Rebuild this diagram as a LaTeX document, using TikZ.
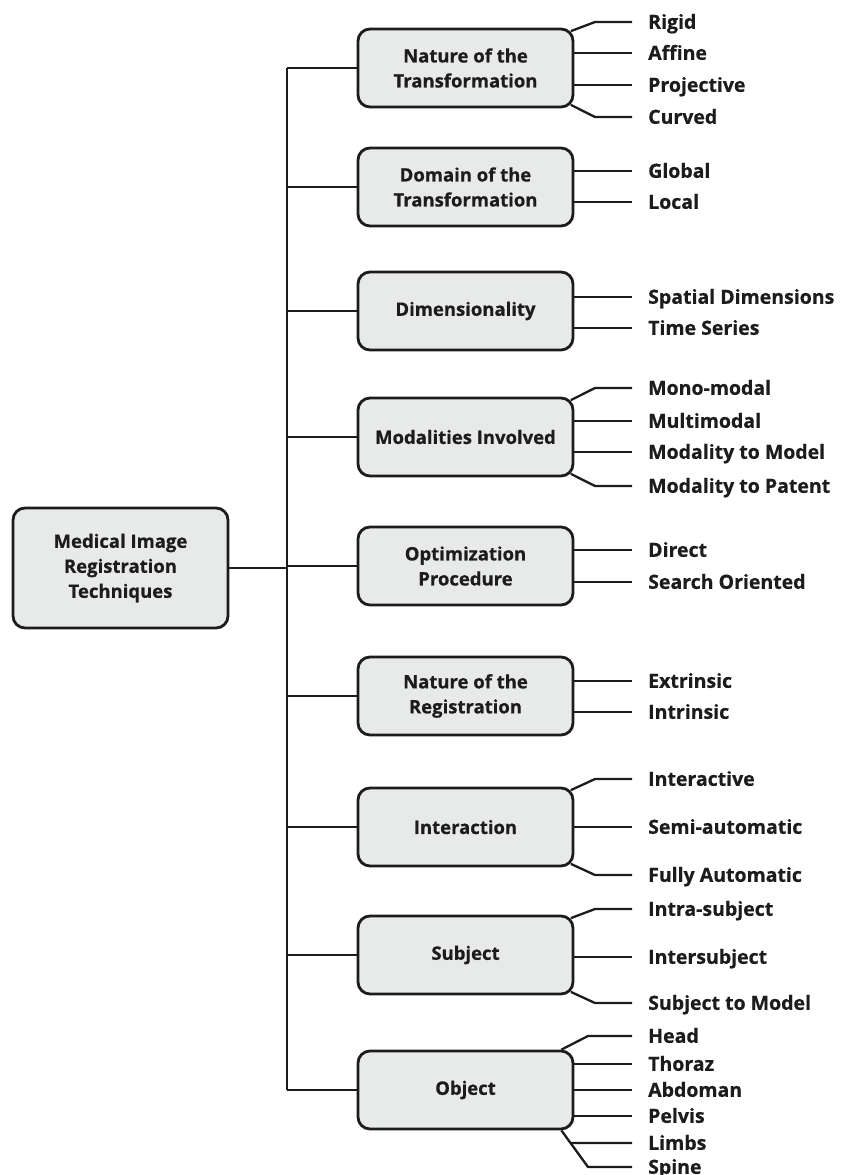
\documentclass[tikz,border=0pt]{standalone}
\usepackage{fontspec}
\setmainfont{Open Sans}[BoldFeatures={FakeBold=0.6}]

\definecolor{boxfill}{HTML}{E8E9E9}
\definecolor{ink}{HTML}{1E1B1C}

\begin{document}
\begin{tikzpicture}[x=1pt,y=-1pt,
    every node/.style={font=\fontsize{18.5}{25}\selectfont\bfseries, text=ink},
    catbox/.style={draw=ink, line width=2.8pt, fill=boxfill, rounded corners=12pt,
        minimum width=215pt, minimum height=78pt, align=center, inner sep=0pt},
    rootbox/.style={catbox, minimum height=120pt},
    leaf/.style={anchor=west, inner sep=0pt, text height=13.6pt, text depth=0pt,
        font=\fontsize{19.5}{25}\selectfont\bfseries},
    link/.style={draw=ink, line width=2.3pt}]
    \useasboundingbox (0,0) rectangle (841,1175);

    % Trunk
    \coordinate (trunkTop) at (287,68);
    \coordinate (trunkBot) at (287,1090);

    % Root and categories
    \node[rootbox] (root) at (120.5,568) {Medical Image\\Registration\\Techniques};
    \node[catbox] (nature)   at (465.5,68)   {Nature of the\\Transformation};
    \node[catbox] (domain)   at (465.5,187)  {Domain of the\\Transformation};
    \node[catbox] (dims)     at (465.5,311)  {Dimensionality};
    \node[catbox] (modal)    at (465.5,437)  {Modalities Involved};
    \node[catbox] (optim)    at (465.5,566)  {Optimization\\Procedure};
    \node[catbox] (natreg)   at (465.5,696)  {Nature of the\\Registration};
    \node[catbox] (interact) at (465.5,827)  {Interaction};
    \node[catbox] (subject)  at (465.5,955)  {Subject};
    \node[catbox] (object)   at (465.5,1090) {Object};

    % Leaves
    \node[leaf] (rigid)      at (648,22)   {Rigid};
    \node[leaf] (affine)     at (648,53)   {Affine};
    \node[leaf] (projective) at (648,85)   {Projective};
    \node[leaf] (curved)     at (648,117)  {Curved};
    \node[leaf] (global)     at (648,171)  {Global};
    \node[leaf] (local)      at (648,202)  {Local};
    \node[leaf] (spatial)    at (648,297)  {Spatial Dimensions};
    \node[leaf] (timeser)    at (648,328)  {Time Series};
    \node[leaf] (mono)       at (648,388)  {Mono-modal};
    \node[leaf] (multi)      at (648,421)  {Multimodal};
    \node[leaf] (tomodel)    at (648,452)  {Modality to Model};
    \node[leaf] (topatent)   at (648,486)  {Modality to Patent};
    \node[leaf] (direct)     at (648,550)  {Direct};
    \node[leaf] (search)     at (648,582)  {Search Oriented};
    \node[leaf] (extrinsic)  at (648,681)  {Extrinsic};
    \node[leaf] (intrinsic)  at (648,712)  {Intrinsic};
    \node[leaf] (interactive) at (648,779) {Interactive};
    \node[leaf] (semi)       at (648,827)  {Semi-automatic};
    \node[leaf] (fully)      at (648,875)  {Fully Automatic};
    \node[leaf] (intra)      at (648,909)  {Intra-subject};
    \node[leaf] (inter)      at (648,957)  {Intersubject};
    \node[leaf] (submodel)   at (648,1003) {Subject to Model};
    \node[leaf] (head)       at (648,1036) {Head};
    \node[leaf] (thorax)     at (648,1064) {Thoraz};
    \node[leaf] (abdomen)    at (648,1090) {Abdoman};
    \node[leaf] (pelvis)     at (648,1116) {Pelvis};
    \node[leaf] (limbs)      at (648,1143) {Limbs};
    \node[leaf] (spine)      at (648,1167) {Spine};

    % Trunk connectors
    \draw[link] (trunkTop) -- (trunkBot);
    \draw[link] (root.east) -- (root.east -| trunkTop);
    \foreach \c in {nature,domain,dims,modal,optim,natreg,interact,subject,object}
        \draw[link] (\c.west) -- (\c.west -| trunkTop);

    % Straight leaf connectors
    \foreach \c/\l in {nature/affine,nature/projective,domain/global,domain/local,
        dims/spatial,dims/timeser,modal/multi,modal/tomodel,optim/direct,optim/search,
        natreg/extrinsic,natreg/intrinsic,interact/semi,subject/inter,
        object/thorax,object/abdomen,object/pelvis}
        \draw[link] (\c.east |- \l.west) -- ([xshift=-16pt]\l.west);

    % Bent leaf connectors
    \foreach \c/\l in {nature/rigid,modal/mono,interact/interactive,subject/intra}
        \draw[link] ([xshift=-3.5pt,yshift=-3.5pt]\c.north east)
            -- ([xshift=-53pt]\l.west) -- ([xshift=-16pt]\l.west);
    \foreach \c/\l in {nature/curved,modal/topatent,interact/fully,subject/submodel}
        \draw[link] ([xshift=-3.5pt,yshift=3.5pt]\c.south east)
            -- ([xshift=-53pt]\l.west) -- ([xshift=-16pt]\l.west);

    % Object fan
    \draw[link] ([xshift=-13pt]object.north east)
        -- ([xshift=-60pt]head.west) -- ([xshift=-16pt]head.west);
    \coordinate (spineA) at ([xshift=-13pt]object.south east);
    \coordinate (spineB) at ([xshift=-60pt]spine.west);
    \coordinate (limbsEnd) at ([xshift=-16pt]limbs.west);
    \draw[link] (spineA) -- (spineB) -- ([xshift=-16pt]spine.west);
    \draw[link] (intersection of spineA--spineB and limbs.west--limbsEnd) -- (limbsEnd);
\end{tikzpicture}
\end{document}
